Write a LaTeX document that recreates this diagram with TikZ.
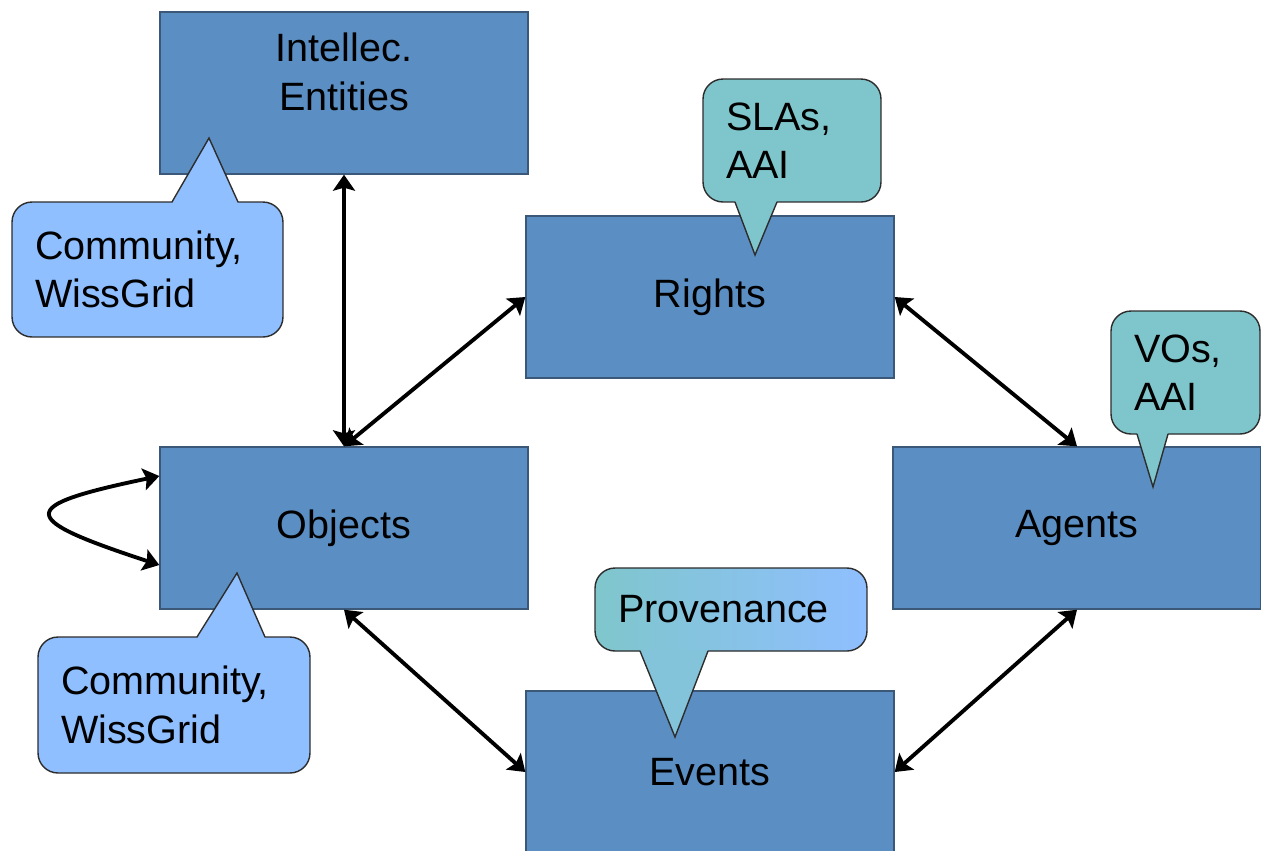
\documentclass[tikz,border=0pt]{standalone}
\usepackage{fontspec}
\setmainfont{Liberation Sans}
\usetikzlibrary{arrows.meta,positioning,calc}
\definecolor{boxblue}{RGB}{91,143,196}
\definecolor{boxline}{RGB}{60,88,120}
\definecolor{noteteal}{RGB}{127,198,204}
\definecolor{noteblue}{RGB}{143,191,255}
\definecolor{noteline}{RGB}{45,45,45}

\begin{document}
\begin{tikzpicture}[x=0.02cm,y=-0.02cm,font=\fontsize{22.5}{27.5}\selectfont]

\tikzset{boxnode/.style={fill=boxblue,draw=boxline,line width=0.8pt,minimum width=7.36cm,minimum height=3.24cm,inner sep=0pt,shape=rectangle},
tealnote/.style={fill=noteteal,draw=noteline,line width=0.8pt,rounded corners=0.4cm,align=left,inner xsep=0.46cm,inner ysep=0pt,shape=rectangle},
bluenote/.style={tealnote,fill=noteblue},
link/.style={line width=2.2pt,{Stealth[length=3.2mm,width=4.4mm,inset=0.6mm]}-{Stealth[length=3.2mm,width=4.4mm,inset=0.6mm]}}}

\useasboundingbox (0,0) rectangle (1261,850);

% Main boxes
\node[boxnode] (intel) at (344,93) {};
\node[align=center] (intelText) at (344,72) {Intellec.\\Entities};
\node[boxnode] (rights) at (710,297) {Rights};
\node[boxnode] (objects) at (344,528) {Objects};
\node[boxnode] (agents) at (1077,528) {Agents};
\node[boxnode] (events) at (710,772) {Events};

% Links
\draw[link] (intel.south) -- (objects.north);
\draw[link] (objects.north) -- (rights.west);
\draw[link] (rights.east) -- (agents.north);
\draw[link] (objects.south) -- (events.west);
\draw[link] (agents.south) -- (events.east);
\draw[link] ([yshift=1.04cm]objects.west) .. controls (16,506) and (16,518) .. ([yshift=-0.74cm]objects.west); % self loop

% Notes
\node[bluenote,text width=4.5cm,minimum height=2.7cm] (comm1) at (147.5,269.5) {Community,\\WissGrid};
\node[tealnote,text width=2.64cm,minimum height=2.46cm] (slas) at (792,140.5) {SLAs,\\AAI};
\node[tealnote,text width=2.06cm,minimum height=2.46cm] (vos) at (1185.5,372.5) {VOs,\\AAI};
\node[bluenote,text width=4.52cm,minimum height=2.72cm] (comm2) at (174,705) {Community,\\WissGrid};
\node[tealnote,left color=noteteal,right color=noteblue,text width=4.52cm,minimum height=1.66cm] (prov) at (731,609.5) {Provenance};

% Note pointers
\foreach \ax/\bx/\by/\tx/\ty/\dy/\col in {172/238/202/209/138/1.5/noteblue, 735/777/202/755/255/-1.5/noteteal, 1137/1168/434/1153/487/-1.5/noteteal, 197/265/637/237/573/1.5/noteblue, 640/708/651/675/737/-1.5/noteteal!72!noteblue}
{
\fill[\col] (\ax,\by+\dy) -- (\tx,\ty) -- (\bx,\by+\dy) -- cycle;
\draw[noteline,line width=0.8pt] (\ax,\by) -- (\tx,\ty) -- (\bx,\by);
}

\end{tikzpicture}
\end{document}
